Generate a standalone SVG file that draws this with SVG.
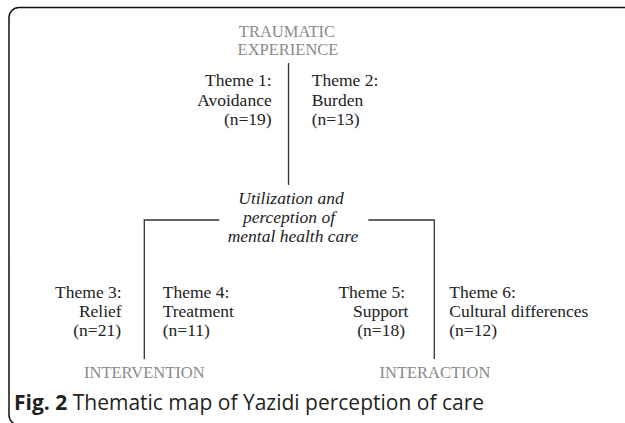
<svg xmlns="http://www.w3.org/2000/svg" width="625" height="423" viewBox="0 0 625 423">
<style>
.t{font-family:"Liberation Serif","Times New Roman",serif;font-size:17.5px;fill:#222}
.c{font-family:"Liberation Serif","Times New Roman",serif;font-size:16.5px;fill:#8a8a8a;text-anchor:middle}
.i{font-family:"Liberation Serif","Times New Roman",serif;font-size:17.5px;font-style:italic;fill:#222;text-anchor:middle}
.r{text-anchor:end}
.ln{fill:none;stroke:#333;stroke-width:1.3}
.cap{font-family:"Open Sans","Noto Sans",sans-serif;font-size:21px;fill:#231f20}
</style>
<rect x="9" y="7.5" width="640" height="417.5" rx="10" fill="#fff" stroke="#111" stroke-width="1.5"/>
<g id="connectors">
<path class="ln" d="M288.5 63V185"/>
<path class="ln" d="M219.3 220H144.3V359"/>
<path class="ln" d="M368.3 220H434.3V359"/>
</g>
<g id="traumatic"><text class="c" x="287" y="36.5">TRAUMATIC</text><text class="c" x="288" y="55">EXPERIENCE</text></g>
<g id="theme1"><text class="t r" x="271.7"><tspan x="271.7" y="86">Theme 1:</tspan><tspan x="271.7" y="105.5">Avoidance</tspan><tspan x="271.7" y="125">(n=19)</tspan></text></g>
<g id="theme2"><text class="t" x="311.7"><tspan x="311.7" y="86">Theme 2:</tspan><tspan x="311.7" y="105.5">Burden</tspan><tspan x="311.7" y="125">(n=13)</tspan></text></g>
<g id="center"><text class="i"><tspan x="291" y="204">Utilization and</tspan><tspan x="289" y="223">perception of</tspan><tspan x="293" y="242">mental health care</tspan></text></g>
<g id="theme3"><text class="t r"><tspan x="121.7" y="298">Theme 3:</tspan><tspan x="121.7" y="317">Relief</tspan><tspan x="121" y="336">(n=21)</tspan></text></g>
<g id="theme4"><text class="t"><tspan x="162.7" y="298">Theme 4:</tspan><tspan x="162.7" y="317">Treatment</tspan><tspan x="162.7" y="336">(n=11)</tspan></text></g>
<g id="theme5"><text class="t r"><tspan x="405" y="298">Theme 5:</tspan><tspan x="408.5" y="317">Support</tspan><tspan x="405" y="336">(n=18)</tspan></text></g>
<g id="theme6"><text class="t"><tspan x="449.3" y="298">Theme 6:</tspan><tspan x="449.3" y="317">Cultural differences</tspan><tspan x="449.3" y="336">(n=12)</tspan></text></g>
<g id="intervention"><text class="c" x="144.3" y="378.3">INTERVENTION</text></g>
<g id="interaction"><text class="c" x="435" y="378.3">INTERACTION</text></g>
<text class="cap" x="14" y="410"><tspan font-weight="bold">Fig. 2</tspan> Thematic map of Yazidi perception of care</text>
</svg>
